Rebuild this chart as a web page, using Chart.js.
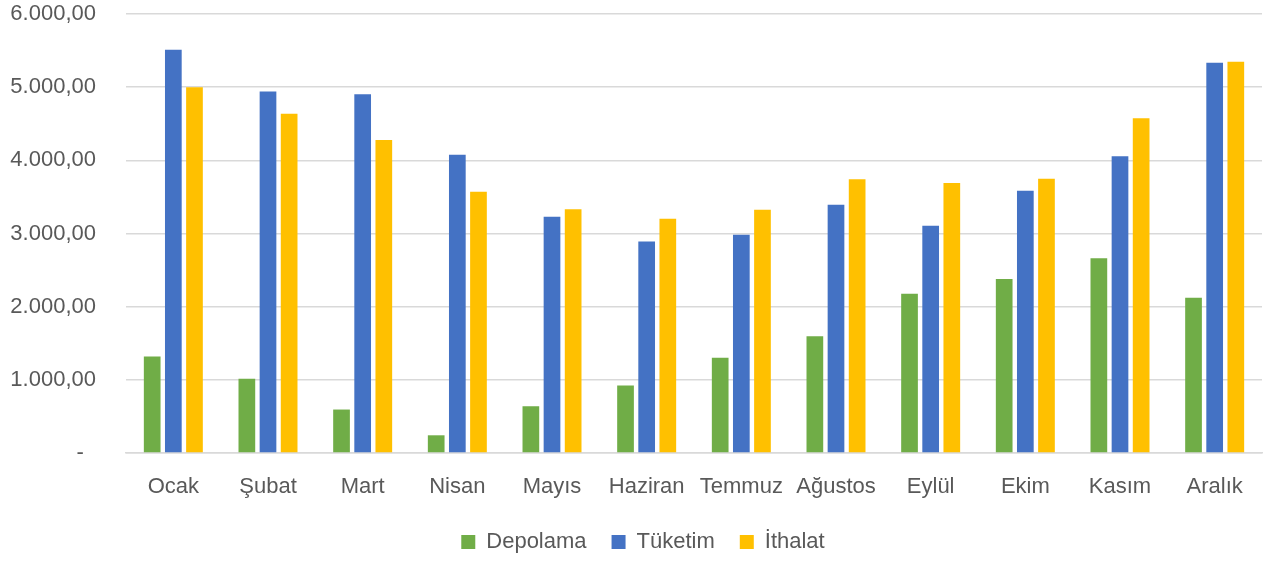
<!DOCTYPE html>
<html>
<head>
<meta charset="utf-8">
<script src="https://cdn.jsdelivr.net/npm/chart.js@4/dist/chart.umd.min.js"></script>
<style>
  html, body { margin: 0; padding: 0; background: #fff; }
  #wrap { width: 1264px; height: 561px; }
</style>
</head>
<body>
<div id="wrap"><canvas id="chart"></canvas></div>
<script>
const months = ["Ocak", "Şubat", "Mart", "Nisan", "Mayıs", "Haziran", "Temmuz", "Ağustos", "Eylül", "Ekim", "Kasım", "Aralık"];
const depolama = [1320, 1014, 594, 242, 639, 922, 1301, 1594, 2178, 2379, 2662, 2123];
const tuketim = [5511, 4941, 4904, 4078, 3228, 2890, 2982, 3393, 3105, 3584, 4055, 5333];
const ithalat = [5000, 4635, 4279, 3571, 3333, 3201, 3324, 3740, 3689, 3749, 4575, 5347];

// 6000 -> "6.000,00", 0 -> "-" (accounting style, dash sits a little left)
const trNumber = (v) => {
  if (v === 0) return "-  ";
  var parts = Number(v).toFixed(2).split(".");
  var whole = parts[0].replace(/\B(?=(\d{3})+(?!\d))/g, ".");
  return whole + "," + parts[1];
};

const textColor = "#595959";
const fontFamily = "'Liberation Sans', 'DejaVu Sans', sans-serif";

// nudge the legend a bit to the right, like the original
const legendShift = {
  id: "legendShift",
  afterLayout(chart) {
    chart.legend.left += 12;
    chart.legend.right += 12;
  },
};

new Chart(document.getElementById("chart"), {
  type: "bar",
  data: {
    labels: months,
    datasets: [
      { label: "Depolama", data: depolama, backgroundColor: "#70AD47" },
      { label: "Tüketim", data: tuketim, backgroundColor: "#4472C4" },
      { label: "İthalat", data: ithalat, backgroundColor: "#FFC000" },
    ],
  },
  plugins: [legendShift],
  options: {
    responsive: true,
    maintainAspectRatio: false,
    animation: false,
    categoryPercentage: 0.67,
    barPercentage: 0.79,
    layout: { padding: { top: 14, right: 2, left: 0, bottom: -2 } },
    plugins: {
      tooltip: { enabled: false },
      legend: {
        position: "bottom",
        labels: {
          color: textColor,
          font: { family: fontFamily, size: 22 },
          boxWidth: 14,
          boxHeight: 14,
          padding: 25,
        },
      },
    },
    scales: {
      x: {
        grid: { display: false },
        border: { color: "#d9d9d9", width: 1.5 },
        afterFit: (scale) => { scale.height = 53; },
        ticks: {
          color: textColor,
          font: { family: fontFamily, size: 22 },
          padding: 13,
          maxRotation: 0,
          autoSkip: false,
        },
      },
      y: {
        min: 0,
        max: 6000,
        border: { display: false },
        grid: { color: "#d9d9d9", lineWidth: 1.5, drawTicks: false },
        afterFit: (scale) => {
          scale.width = 126;
          scale.paddingTop = 0;
          scale.paddingBottom = 0;
        },
        ticks: {
          stepSize: 1000,
          color: textColor,
          font: { family: fontFamily, size: 22 },
          padding: 30,
          callback: (v) => trNumber(v),
        },
      },
    },
  },
});
</script>
</body>
</html>
